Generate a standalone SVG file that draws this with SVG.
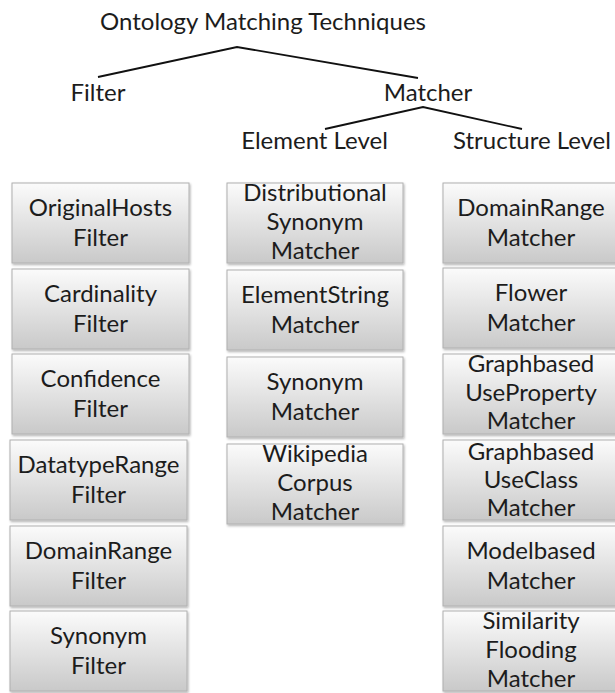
<svg xmlns="http://www.w3.org/2000/svg" width="615" height="693" viewBox="0 0 615 693">
<defs>
<linearGradient id="g" x1="0" y1="0" x2="0" y2="1">
<stop offset="0" stop-color="#fbfbfb"/>
<stop offset="1" stop-color="#c9c9c9"/>
</linearGradient>
<filter id="sh" x="-5%" y="-5%" width="115%" height="120%">
<feDropShadow dx="1" dy="1.5" stdDeviation="1" flood-color="#000" flood-opacity="0.3"/>
</filter>
</defs>
<style>
text{font-family:"Lato","Open Sans","Liberation Sans",sans-serif;font-size:24px;fill:#1c1c1c;text-anchor:middle}
.box{fill:url(#g);stroke:#b0b0b0;stroke-width:1;filter:url(#sh)}
.conn{fill:none;stroke:#111;stroke-width:1.8;stroke-linejoin:miter}
</style>
<rect width="615" height="693" fill="#fff"/>
<g id="connectors">
<polyline class="conn" points="98,77 237,47 418,78"/>
<polyline class="conn" points="325,129 423,107 522,129"/>
</g>
<g id="root"><text x="263" y="30">Ontology Matching Techniques</text></g>
<g id="filter"><text x="98" y="101">Filter</text></g>
<g id="matcher"><text x="428" y="101">Matcher</text></g>
<g id="element-level"><text x="314.5" y="149">Element Level</text></g>
<g id="structure-level"><text x="532" y="149">Structure Level</text></g>

<g id="originalhosts-filter"><rect class="box" x="12" y="183" width="177" height="80"/><text x="100.5" y="216">OriginalHosts</text><text x="100.5" y="246">Filter</text></g>
<g id="cardinality-filter"><rect class="box" x="12" y="269" width="177" height="80"/><text x="100.5" y="302">Cardinality</text><text x="100.5" y="332">Filter</text></g>
<g id="confidence-filter"><rect class="box" x="12" y="354" width="177" height="80"/><text x="100.5" y="387">Confidence</text><text x="100.5" y="417">Filter</text></g>
<g id="datatyperange-filter"><rect class="box" x="10" y="440" width="177" height="80"/><text x="98.5" y="473">DatatypeRange</text><text x="98.5" y="503">Filter</text></g>
<g id="domainrange-filter"><rect class="box" x="10" y="526" width="177" height="80"/><text x="98.5" y="559">DomainRange</text><text x="98.5" y="589">Filter</text></g>
<g id="synonym-filter"><rect class="box" x="10" y="611" width="177" height="80"/><text x="98.5" y="644">Synonym</text><text x="98.5" y="674">Filter</text></g>

<g id="distributional-synonym-matcher"><rect class="box" x="227" y="183" width="176" height="80"/><text x="315" y="201">Distributional</text><text x="315" y="230">Synonym</text><text x="315" y="259">Matcher</text></g>
<g id="elementstring-matcher"><rect class="box" x="227" y="270" width="176" height="80"/><text x="315" y="303">ElementString</text><text x="315" y="333">Matcher</text></g>
<g id="synonym-matcher"><rect class="box" x="227" y="357" width="176" height="80"/><text x="315" y="390">Synonym</text><text x="315" y="420">Matcher</text></g>
<g id="wikipedia-corpus-matcher"><rect class="box" x="227" y="444" width="176" height="80"/><text x="315" y="462">Wikipedia</text><text x="315" y="491">Corpus</text><text x="315" y="520">Matcher</text></g>

<g id="domainrange-matcher"><rect class="box" x="443" y="183" width="176" height="80"/><text x="531" y="216">DomainRange</text><text x="531" y="246">Matcher</text></g>
<g id="flower-matcher"><rect class="box" x="443" y="268" width="176" height="80"/><text x="531" y="301">Flower</text><text x="531" y="331">Matcher</text></g>
<g id="graphbased-useproperty-matcher"><rect class="box" x="443" y="354" width="176" height="80"/><text x="531" y="372">Graphbased</text><text x="531" y="401">UseProperty</text><text x="531" y="429">Matcher</text></g>
<g id="graphbased-useclass-matcher"><rect class="box" x="443" y="440" width="176" height="80"/><text x="531" y="460">Graphbased</text><text x="531" y="488">UseClass</text><text x="531" y="516">Matcher</text></g>
<g id="modelbased-matcher"><rect class="box" x="443" y="526" width="176" height="80"/><text x="531" y="559">Modelbased</text><text x="531" y="589">Matcher</text></g>
<g id="similarity-flooding-matcher"><rect class="box" x="443" y="611" width="176" height="80"/><text x="531" y="629">Similarity</text><text x="531" y="658">Flooding</text><text x="531" y="687">Matcher</text></g>
</svg>
